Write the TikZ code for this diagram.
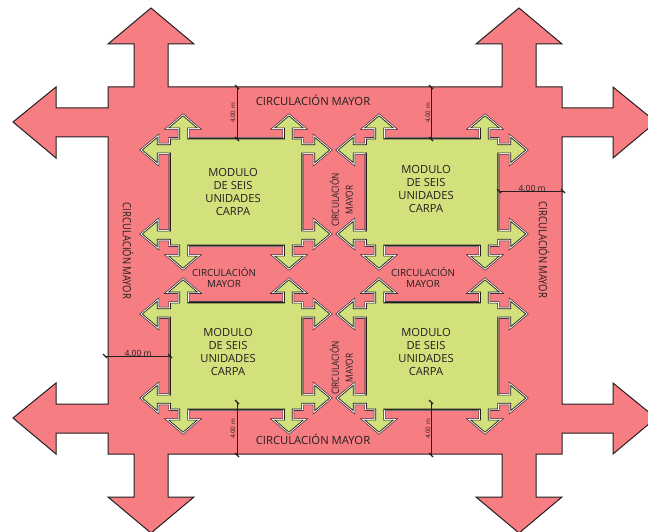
\documentclass[tikz,border=0pt]{standalone}
\usepackage{fontspec}
\setmainfont{Open Sans}
\definecolor{pinkzone}{RGB}{246,126,130}
\definecolor{greenzone}{RGB}{211,225,125}
\definecolor{inkline}{RGB}{35,30,32}
\definecolor{greyedge}{RGB}{140,130,120}
\tikzset{
  every node/.style={text=inkline,align=center,inner sep=0pt,font=\fontsize{11.2}{12.6}\selectfont},
  zone/.style={fill=pinkzone,draw=inkline,line width=1pt,line join=miter},
  outerpen/.style={draw=inkline,line width=3.7pt,line join=miter},
  whitepen/.style={draw=white,line width=2.5pt,line join=miter},
  modulefill/.style={fill=greenzone,draw=inkline,line width=.7pt,line join=miter},
  topedge/.style={draw=inkline,line width=2.5pt},
  sideedge/.style={draw=greyedge,line width=2.5pt},
  dimline/.style={draw=inkline,line width=.7pt},
  dimtick/.style={draw=inkline,line width=1.3pt},
  dimtext/.style={font=\fontsize{8.5}{10}\selectfont},
  dimtextv/.style={font=\fontsize{6.2}{8}\selectfont},
  smalllabel/.style={font=\fontsize{9.9}{11}\selectfont},
  sidelabel/.style={font=\fontsize{11.3}{13}\selectfont},
  vertlabel/.style={font=\fontsize{9.9}{14}\selectfont},
  modlabel/.style={font=\fontsize{11.2}{12.6}\selectfont},
}
\newcommand{\modpath}{
  (-65.6,-39.1) -- (-78.7,-39.1) -- (-78.7,-29.4) -- (-93.8,-42) -- (-78.7,-54.6) -- (-78.7,-47.3) -- (-65.6,-47.3) -- (-65.6,-52.9) -- (-56.3,-52.9) -- (-56.3,-64.1) -- (-67.2,-64.1) -- (-53,-76.2) -- (-38.8,-64.1) -- (-48.4,-64.1) -- (-48.4,-53)
  -- (48.4,-53) -- (48.4,-64.1) -- (38.8,-64.1) -- (53,-76.2) -- (67.2,-64.1) -- (56.3,-64.1) -- (56.3,-52.9) -- (65.6,-52.9) -- (65.6,-47.3) -- (78.7,-47.3) -- (78.7,-54.6) -- (93.8,-42) -- (78.7,-29.4) -- (78.7,-39.1) -- (65.6,-39.1)
  -- (65.6,39.1) -- (78.7,39.1) -- (78.7,29.4) -- (93.8,42) -- (78.7,54.6) -- (78.7,47.3) -- (65.6,47.3) -- (65.6,52.9) -- (56.3,52.9) -- (56.3,64.1) -- (67.2,64.1) -- (53,76.2) -- (38.8,64.1) -- (48.4,64.1) -- (48.4,53)
  -- (-48.4,53) -- (-48.4,64.1) -- (-38.8,64.1) -- (-53,76.2) -- (-67.2,64.1) -- (-56.3,64.1) -- (-56.3,52.9) -- (-65.6,52.9) -- (-65.6,47.3) -- (-78.7,47.3) -- (-78.7,54.6) -- (-93.8,42) -- (-78.7,29.4) -- (-78.7,39.1) -- (-65.6,39.1) -- cycle}
\newcommand{\modshape}[2]{
  \begin{scope}[shift={(#1,#2)}]
    \path[outerpen] \modpath;
    \path[whitepen] \modpath;
    \path[topedge] (-48,-53) -- (48,-53) (-48,53) -- (48,53);
    \path[sideedge] (-65.6,-38.5) -- (-65.6,38.5) (65.6,-38.5) -- (65.6,38.5);
    \path[modulefill] \modpath;
  \end{scope}}
\newcommand{\twolines}{\scalebox{.84}[1]{\begin{tabular}{@{}c@{}}CIRCULACIÓN\\MAYOR\end{tabular}}}
\begin{document}
\begin{tikzpicture}[x=1pt,y=-1pt]
\useasboundingbox (0,0) rectangle (648,532);
\begin{scope}
\clip (0,0) rectangle (648,532);
\path[zone]
  (151,8) -- (194,44) -- (168,44) -- (168,87) -- (502,87) -- (502,44) -- (476,44) -- (519,8) -- (562,44) -- (536,44) -- (536,87)
  -- (562,87) -- (562,108) -- (613,108) -- (613,87) -- (656,122) -- (613,158) -- (613,137) -- (562,137)
  -- (562,404) -- (613,404) -- (613,383) -- (656,418) -- (613,454) -- (613,433) -- (562,433)
  -- (562,454) -- (536,454) -- (536,497) -- (562,497) -- (519,533) -- (476,497) -- (502,497) -- (502,454)
  -- (168,454) -- (168,497) -- (194,497) -- (151,533) -- (108,497) -- (134,497) -- (134,454) -- (108,454) -- (108,433)
  -- (56,433) -- (56,454) -- (13,418) -- (56,383) -- (56,404) -- (108,404)
  -- (108,137) -- (56,137) -- (56,158) -- (13,122) -- (56,87) -- (56,108) -- (108,108) -- (108,87) -- (134,87) -- (134,44) -- (108,44) -- cycle;
\end{scope}
\modshape{236}{192}
\modshape{432}{192}
\modshape{236}{356}
\modshape{432}{356}
% module labels
\node[modlabel] (m1) at (233,192) {MODULO\\[.2pt]DE SEIS\\[.2pt]UNIDADES\\[.2pt]CARPA};
\node[modlabel] (m2) at (426,189) {MODULO\\[.2pt]DE SEIS\\[.2pt]UNIDADES\\[.2pt]CARPA};
\node[modlabel] (m3) at (228,352) {MODULO\\[.2pt]DE SEIS\\[.2pt]UNIDADES\\[.2pt]CARPA};
\node[modlabel] (m4) at (426,352) {MODULO\\[.2pt]DE SEIS\\[.2pt]UNIDADES\\[.2pt]CARPA};
% circulation labels
\node[sidelabel] (ct) at (313,100) {CIRCULACIÓN MAYOR};
\node[sidelabel] (cb) at (313,439) {CIRCULACIÓN MAYOR};
\node[sidelabel,rotate=-90] (cl) at (128,251) {\scalebox{.84}[1]{CIRCULACIÓN MAYOR}};
\node[sidelabel,rotate=-90] (cr) at (544,250) {\scalebox{.84}[1]{CIRCULACIÓN MAYOR}};
\node[smalllabel] (c1) at (224,277) {CIRCULACIÓN\\MAYOR};
\node[smalllabel] (c2) at (423,277) {CIRCULACIÓN\\MAYOR};
\node[vertlabel,rotate=90] (c3) at (343,200) {\twolines};
\node[vertlabel,rotate=90] (c4) at (343,368) {\twolines};
% dimension coordinates
\coordinate (d1a) at (237,87); \coordinate (d1b) at (237,139);
\coordinate (d2a) at (431,87); \coordinate (d2b) at (431,139);
\coordinate (d3a) at (237,402); \coordinate (d3b) at (237,455);
\coordinate (d4a) at (431,402); \coordinate (d4b) at (431,455);
\coordinate (d5a) at (499,191); \coordinate (d5b) at (563,191);
\coordinate (d6a) at (105,356); \coordinate (d6b) at (170,356);
\foreach \a/\b in {d1a/d1b,d2a/d2b,d3a/d3b,d4a/d4b,d5a/d5b,d6a/d6b}{
  \draw[dimline] (\a) -- (\b);
  \draw[dimtick] ([shift={(-2,-2)}]\a) -- ([shift={(2,2)}]\a);
  \draw[dimtick] ([shift={(-2,-2)}]\b) -- ([shift={(2,2)}]\b);
}
\node[dimtextv,rotate=90] (t1) at (233,113) {4.00 m};
\node[dimtextv,rotate=90] (t2) at (428,113) {4.00 m};
\node[dimtextv,rotate=90] (t3) at (233,429) {4.00 m};
\node[dimtextv,rotate=90] (t4) at (428,429) {4.00 m};
\node[dimtext] (t5) at (532,188) {4.00 m};
\node[dimtext] (t6) at (138,353) {4.00 m};
\end{tikzpicture}
\end{document}
